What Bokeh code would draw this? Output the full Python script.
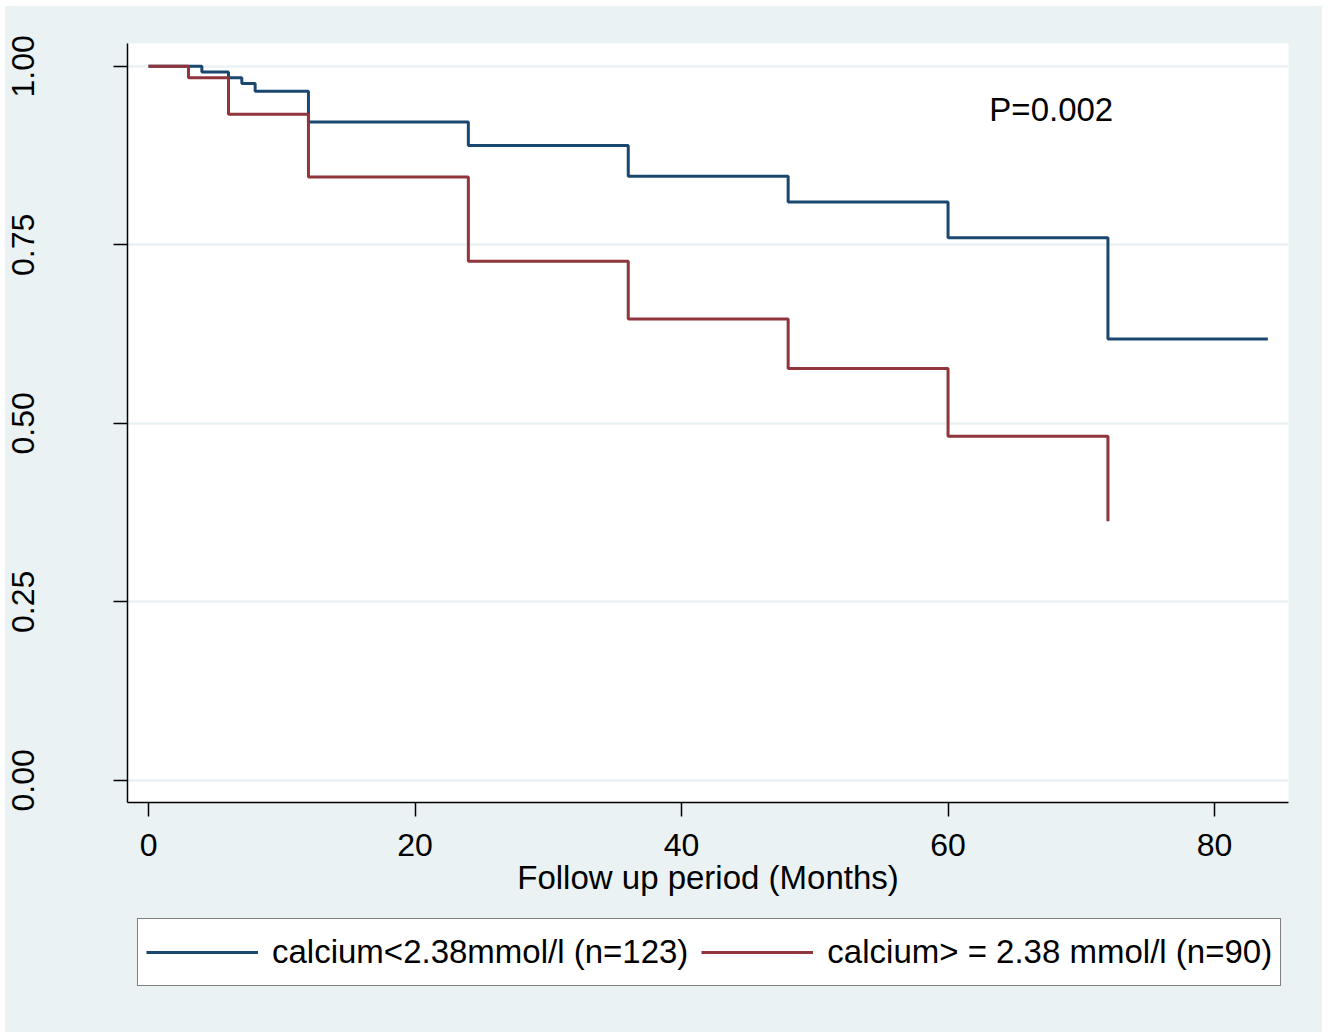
from bokeh.plotting import figure
from bokeh.layouts import column
from bokeh.models import Range1d, Label, Legend, LegendItem, FixedTicker, PrintfTickFormatter, ColumnDataSource
from bokeh.embed import file_html
from bokeh.resources import INLINE

# ---- data ----
low_months = [0, 4, 6, 7, 8, 12, 24, 36, 48, 60, 72, 84]
low_surv = [1.0, 0.992, 0.984, 0.976, 0.965, 0.922, 0.889, 0.846, 0.810, 0.760, 0.618, 0.618]
high_months = [0, 3, 6, 12, 24, 36, 48, 60, 72]
high_surv = [1.0, 0.984, 0.933, 0.845, 0.727, 0.646, 0.577, 0.482, 0.363]
low_label = "calcium<2.38mmol/l (n=123)"
high_label = "calcium> = 2.38 mmol/l (n=90)"
x_ticks = [0, 20, 40, 60, 80]
y_ticks = [0.0, 0.25, 0.50, 0.75, 1.0]
x_title = "Follow up period (Months)"
p_text = "P=0.002"
p_pos = (63.1, 0.94)

BG = "#EAF2F3"
BLUE = "#1A476F"
RED = "#90353B"
FONT = "Liberation Sans"

p = figure(frame_width=1161, frame_height=759, output_backend="svg", toolbar_location=None,
           x_range=Range1d(-1.58, 85.55), y_range=Range1d(-0.031, 1.032),
           min_border_left=122, min_border_right=34, min_border_top=37, min_border_bottom=106,
           margin=0,
           background_fill_color="white", border_fill_color=BG, outline_line_color=None)

src_low = ColumnDataSource(dict(t=low_months, s=low_surv))
src_high = ColumnDataSource(dict(t=high_months, s=high_surv))
p.step(x="t", y="s", source=src_low, mode="after", line_color=BLUE, line_width=3)
p.step(x="t", y="s", source=src_high, mode="after", line_color=RED, line_width=3)

# axes
p.xaxis.ticker = FixedTicker(ticks=x_ticks)
p.yaxis.ticker = FixedTicker(ticks=y_ticks)
p.yaxis.formatter = PrintfTickFormatter(format="%.2f")
p.yaxis.major_label_orientation = "vertical"
for ax in (p.xaxis[0], p.yaxis[0]):
    ax.axis_line_color = "black"
    ax.axis_line_width = 1.5
    ax.major_tick_line_color = "black"
    ax.major_tick_line_width = 1.5
    ax.major_tick_out = 14
    ax.major_tick_in = 0
    ax.minor_tick_line_color = None
    ax.major_label_text_font = FONT
    ax.major_label_text_font_size = "32px"
    ax.major_label_text_color = "black"
p.xaxis.major_label_standoff = 17
p.yaxis.major_label_standoff = 79
p.xaxis.axis_label = x_title
p.xaxis.axis_label_text_font = FONT
p.xaxis.axis_label_text_font_size = "33px"
p.xaxis.axis_label_text_font_style = "normal"
p.xaxis.axis_label_standoff = 0
p.xaxis.axis_label_text_color = "black"

p.xgrid.visible = False
p.ygrid.grid_line_color = BG
p.ygrid.grid_line_width = 2.5
p.ygrid.ticker = FixedTicker(ticks=y_ticks)

p.add_layout(Label(x=p_pos[0], y=p_pos[1], text=p_text, text_font=FONT,
                   text_font_size="33px", text_color="black", text_baseline="alphabetic"))

# ---- legend strip below the plot ----
leg_fig = figure(frame_width=1317, frame_height=124, output_backend="svg", toolbar_location=None,
                 x_axis_type=None, y_axis_type=None,
                 x_range=Range1d(1000, 1001), y_range=Range1d(1000, 1001),
                 min_border=0, margin=0,
                 background_fill_color=BG, border_fill_color=BG, outline_line_color=None)
leg_fig.grid.visible = False
lr_low = leg_fig.step(x="t", y="s", source=src_low, mode="after", line_color=BLUE, line_width=3)
lr_high = leg_fig.step(x="t", y="s", source=src_high, mode="after", line_color=RED, line_width=3)

legend = Legend(items=[LegendItem(label=low_label, renderers=[lr_low]),
                       LegendItem(label=high_label, renderers=[lr_high])],
                orientation="horizontal", location=(132, 46), margin=0,
                padding=8, spacing=13, label_standoff=14, glyph_width=112, glyph_height=50,
                label_text_font=FONT, label_text_font_size="33px", label_text_color="black",
                border_line_color="black", border_line_width=1.5,
                background_fill_color="white", background_fill_alpha=1.0)
leg_fig.add_layout(legend, "center")

layout = column(p, leg_fig, spacing=0, margin=(6, 0, 0, 5),
                styles={"background-color": BG})

open("out.html", "w").write(file_html(layout, INLINE))
